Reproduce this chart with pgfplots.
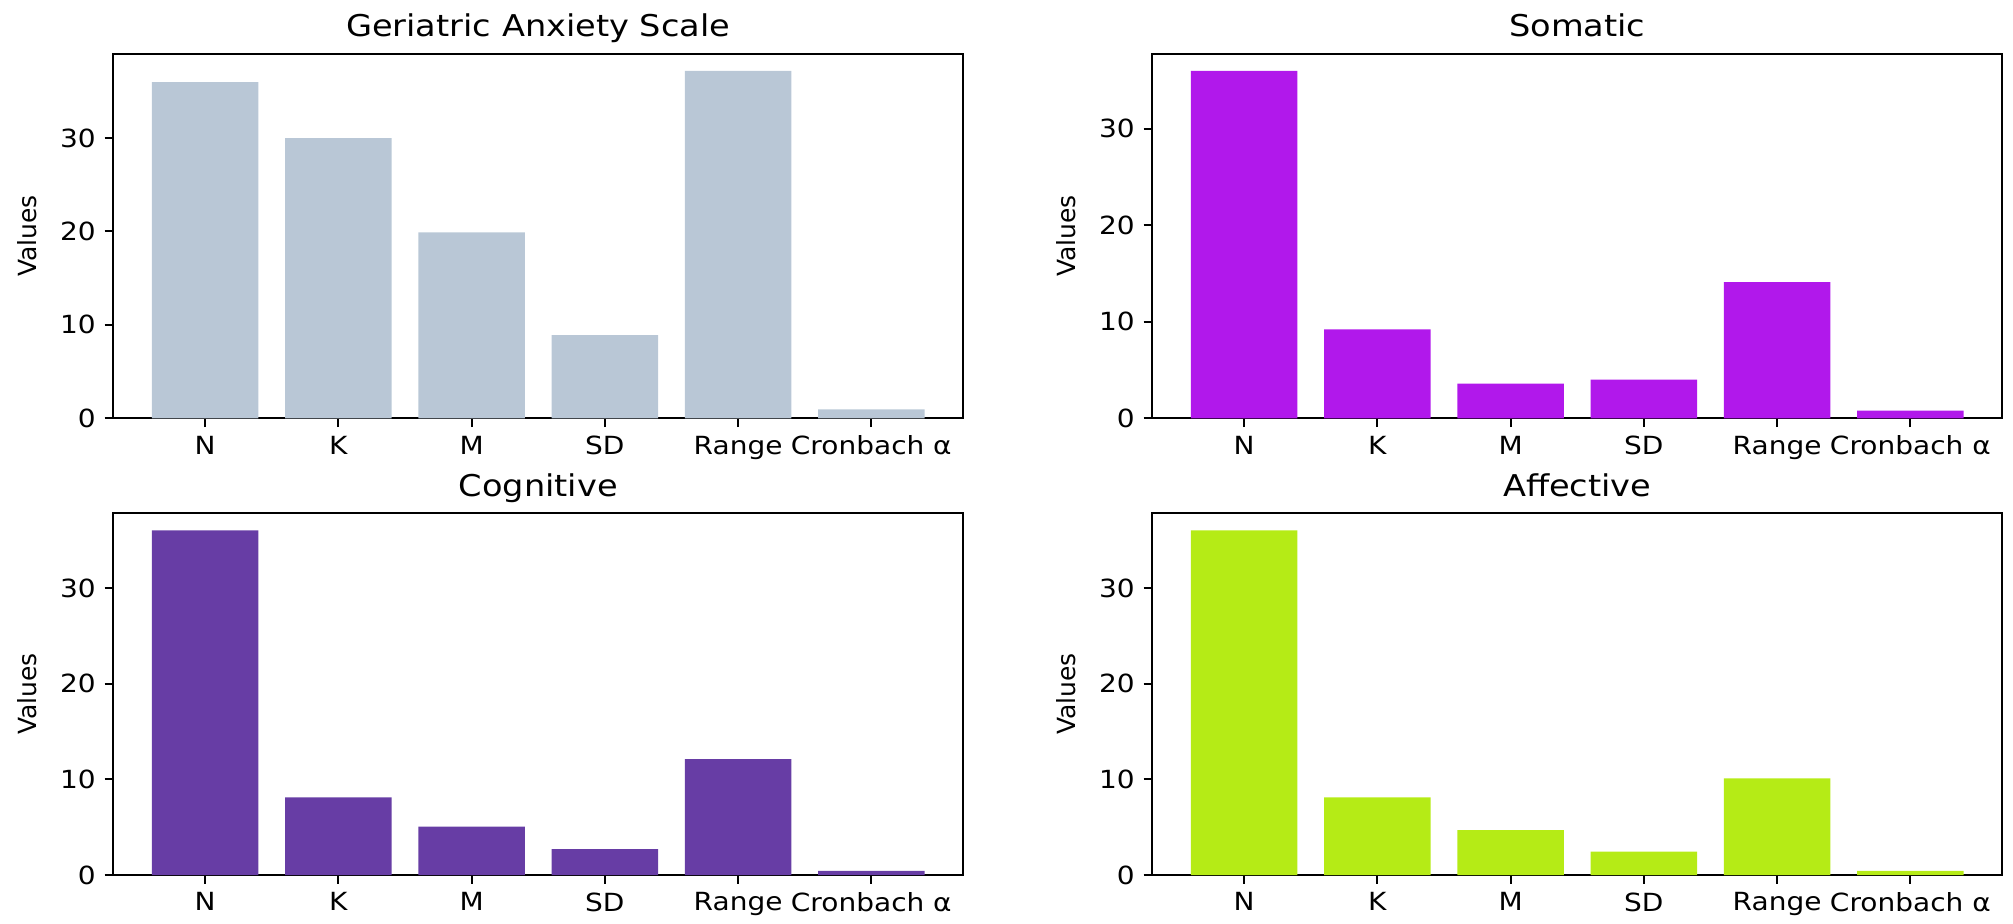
\documentclass[border=0pt]{standalone}
\usepackage{fontspec}
\setmainfont{DejaVu Sans}[FakeStretch=1.12]
\newfontfamily\plainfont{DejaVu Sans}
\usepackage{pgfplots}
\pgfplotsset{compat=1.18}
\definecolor{gas}{RGB}{185,199,214}
\definecolor{som}{RGB}{177,24,235}
\definecolor{cog}{RGB}{103,61,165}
\definecolor{aff}{RGB}{181,235,22}
\pgfplotsset{
  every axis title shift=0pt,
  myax/.style={
    scale only axis,
    width=340pt,
    ybar,
    bar width=0.8,
    bar shift=0pt,
    xmin=-0.69, xmax=5.69,
    ymin=0,
    xtick={0,1,2,3,4,5},
    xticklabels={N,K,M,SD,Range,Cronbach α},
    ytick={0,10,20,30},
    tick align=outside,
    xtick pos=lower,
    ytick pos=left,
    major tick length=3.5pt,
    every tick/.style={black, line width=0.8pt},
    axis line style={line width=0.8pt},
    tick label style={font=\fontsize{10}{12}\selectfont},
    /pgf/number format/assume math mode=true,
    ylabel={Values},
    ylabel style={font=\plainfont\fontsize{10}{12}\selectfont, at={(axis description cs:-0.1018,0.5)}, anchor=center, inner sep=0pt, rotate=0},
    title style={font=\fontsize{12}{14}\selectfont, at={(axis description cs:0.5,1)}, anchor=base, yshift=6.7pt, inner sep=0pt},
    clip=false,
  }
}
\begin{document}
\begin{tikzpicture}
\useasboundingbox (0,0) rectangle (805.2pt,-369.2pt);
% top-left
\begin{axis}[myax, height=145.9pt, at={(45.3pt,-167.3pt)}, anchor=south west,
  ymax=39.06, title={Geriatric Anxiety Scale}]
\addplot[fill=gas, draw=none] coordinates {(0,36) (1,30) (2,19.9) (3,8.9) (4,37.2) (5,0.95)};
\end{axis}
% top-right
\begin{axis}[myax, height=145.9pt, at={(460.9pt,-167.3pt)}, anchor=south west,
  ymax=37.8, title={Somatic}]
\addplot[fill=som, draw=none] coordinates {(0,36) (1,9.2) (2,3.6) (3,4.0) (4,14.1) (5,0.8)};
\end{axis}
% bottom-left
\begin{axis}[myax, height=144.7pt, at={(45.3pt,-350pt)}, anchor=south west,
  ymax=37.8, title={Cognitive}]
\addplot[fill=cog, draw=none] coordinates {(0,36) (1,8.1) (2,5.05) (3,2.7) (4,12.1) (5,0.42)};
\end{axis}
% bottom-right
\begin{axis}[myax, height=144.7pt, at={(460.9pt,-350pt)}, anchor=south west,
  ymax=37.8, title={Affective}]
\addplot[fill=aff, draw=none] coordinates {(0,36) (1,8.1) (2,4.7) (3,2.45) (4,10.1) (5,0.42)};
\end{axis}
\end{tikzpicture}
\end{document}
